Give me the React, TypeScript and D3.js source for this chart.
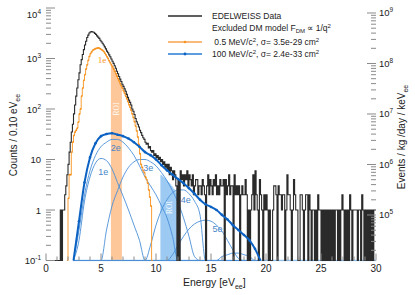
import * as d3 from "d3";

const width = 415;
const height = 295;
const plot = { left: 46, right: 376, top: 8, bottom: 260.5 };

const binWidth = 0.1;
// counts -> Events / kg / day / keV conversion used by the right axis
const rateFactor = 1.256e5;

// EDELWEISS data, counts per 0.1 eV bin from 0 eV
const dataStart = 0;
const dataCounts = [
  0, 0, 0, 0, 0, 0, 0, 0, 0, 0,
  0, 0, 0, 1, 0, 1, 1, 2, 3, 5,
  8, 14, 22, 35, 50, 80, 120, 180, 260, 380,
  520, 750, 950, 1200, 1500, 1850, 2200, 2600, 2900, 3200,
  3350, 3400, 3350, 3300, 3150, 3000, 2800, 2650, 2500, 2300,
  2150, 2000, 1850, 1700, 1550, 1400, 1300, 1180, 1080, 980,
  880, 800, 720, 640, 560, 500, 440, 390, 350, 310,
  280, 250, 225, 195, 170, 150, 135, 120, 100, 90,
  78, 65, 56, 50, 44, 38, 34, 30, 27, 25,
  22, 20, 21, 17, 18, 15, 14, 15, 12, 13,
  11, 12, 10, 11, 9, 10, 8, 9, 7, 8,
  6, 8, 5, 7, 6, 4, 6, 5, 3, 0,
  4, 0, 6, 4, 5, 3, 5, 4, 6, 3,
  5, 4, 3, 5, 2, 3, 4, 4, 2, 3,
  3, 2, 4, 3, 2, 0, 3, 5, 2, 4,
  3, 2, 4, 3, 5, 2, 3, 2, 4, 3,
  3, 4, 0, 4, 2, 3, 5, 2, 3, 3,
  0, 5, 2, 3, 2, 3, 0, 2, 3, 2,
  2, 4, 2, 0, 1, 0, 1, 2, 5, 1,
  6, 2, 1, 0, 4, 2, 1, 0, 2, 1,
  2, 1, 0, 1, 0, 0, 1, 3, 3, 2,
  0, 3, 2, 2, 1, 2, 2, 0, 1, 5,
  2, 2, 1, 0, 1, 4, 2, 1, 1, 0,
  0, 2, 2, 1, 0, 1, 2, 2, 0, 2,
  1, 0, 1, 1, 0, 1, 0, 2, 1, 1,
  0, 1, 0, 1, 0, 1, 0, 1, 0, 1,
  0, 1, 0, 1, 1, 0, 1, 0, 1, 2,
  1, 0, 1, 0, 1, 0, 2, 1, 0, 1,
  1, 1, 1, 0, 1, 1, 0, 2, 1, 0,
  1, 0, 1, 0, 1, 0, 1, 0, 1, 1,
];

// 0.5 MeV/c2 model (1e), per 0.1 eV bin from 1.9 eV
const orangeStart = 1.9;
const orangeCounts = [
  0,
  1.7, 5, 5, 14, 22, 30, 35, 38, 42, 55,
  80, 100, 180, 260, 370, 480, 620, 750, 920, 1100,
  1250, 1350, 1450, 1500, 1550, 1580, 1600, 1620, 1600, 1550,
  1500, 1450, 1380, 1280, 1180, 1080, 1000, 900, 820, 750,
  690, 620, 560, 500, 450, 400, 360, 320, 290, 260,
  230, 205, 180, 160, 140, 122, 108, 94, 80, 68,
  56, 46, 37, 28, 20, 13, 8, 7, 6, 5.5,
  4.5, 4, 3.4, 2.5, 1.8, 1.2, 0,
];
const roiOrange = [5.9, 6.9];

// 100 MeV/c2 ROI content, per 0.1 eV bin from 10.4 eV
const roiBlueStart = 10.4;
const roiBlueCounts = [5, 4.8, 4.6, 4.4, 4.2, 4, 3.8, 3.6, 3.4, 3.2, 3, 2.8, 2.6, 2.4, 2.2];

// 100 MeV/c2 model, sampled every 0.5 eV
const modelEnergy = [
  2.5, 3, 3.5, 4, 4.5, 5, 5.5, 6, 6.5, 7, 7.5, 8, 8.5, 9, 9.5, 10, 10.5, 11,
  11.5, 12, 12.5, 13, 13.5, 14, 14.5, 15, 15.5, 16, 16.5, 17, 17.5, 18, 18.5, 19, 19.5,
];
const model1e = [0, 0.25, 1.5, 4.5, 8.5, 10.5, 9.5, 6.5, 3.5, 1.9, 1, 0.5, 0.25, 0, 0, 0, 0, 0, 0, 0, 0, 0, 0, 0, 0, 0, 0, 0, 0, 0, 0, 0, 0, 0, 0];
const model2e = [0, 0.4, 2, 6, 12, 18, 22, 25, 25, 22, 17, 12, 7.5, 4.5, 3, 2, 1.2, 0.7, 0.3, 0, 0, 0, 0, 0, 0, 0, 0, 0, 0, 0, 0, 0, 0, 0, 0];
const model3e = [0, 0, 0, 0, 0, 0, 0.4, 1.2, 2.4, 4.5, 7, 9, 10, 10, 9, 7.5, 5.5, 3.8, 2.4, 1.4, 0.7, 0.3, 0.12, 0, 0, 0, 0, 0, 0, 0, 0, 0, 0, 0, 0];
const model4e = [0, 0, 0, 0, 0, 0, 0, 0, 0, 0, 0, 0, 0, 0, 0.2, 0.5, 1, 1.6, 2.2, 2.5, 2.5, 2.1, 1.5, 0.8, 0, 0, 0, 0, 0, 0, 0, 0, 0, 0, 0];
const model5e = [0, 0, 0, 0, 0, 0, 0, 0, 0, 0, 0, 0, 0, 0, 0, 0, 0, 0, 0.13, 0.2, 0.3, 0.42, 0.53, 0.6, 0.63, 0.6, 0.5, 0.38, 0.25, 0.16, 0.11, 0, 0, 0, 0];
const model6e = [0, 0, 0, 0, 0, 0, 0, 0, 0, 0, 0, 0, 0, 0, 0, 0, 0, 0, 0, 0, 0, 0, 0, 0, 0, 0, 0.1, 0.12, 0.13, 0.14, 0.14, 0.13, 0.12, 0.1, 0];
const modelTotal = [0.1, 0.6, 3.5, 11, 21, 29, 32, 33, 31, 29, 26, 22, 17.8, 14, 12.2, 10, 7.7, 6.1, 5, 4.1, 3.4, 2.7, 2.1, 1.6, 1.3, 1.15, 1, 0.8, 0.65, 0.5, 0.4, 0.32, 0.25, 0.17, 0.1];
const modelFloor = [2.5, 30];

const componentLabels = [
  { text: "1e", e: 5.2, v: 5.6 },
  { text: "2e", e: 6.35, v: 17 },
  { text: "3e", e: 9.3, v: 6.8 },
  { text: "4e", e: 12.7, v: 1.58 },
  { text: "5e", e: 15.6, v: 0.42 },
];

const xTicks = [0, 5, 10, 15, 20, 25, 30];

const font = "'Liberation Sans', Arial, sans-serif";
const dataColor = "#2a2a2a";
const orange = "#f7931e";
const orangeFill = "#fdc79a";
const thinBlue = "#4a8fd8";
const thickBlue = "#0b62c3";
const blueFill = "#9ccaf3";
const labelBlue = "#4a86c8";
const tickGray = "#8a8a8a";

type Pt = [number, number];

const xScale = d3.scaleLinear().domain([0, 30]).range([plot.left, plot.right]);
const yScale = d3.scaleLog().domain([0.1, 1e4]).range([plot.bottom, plot.top]);
const rScale = d3
  .scaleLog()
  .domain([0.1 * rateFactor, 1e4 * rateFactor])
  .range([plot.bottom, plot.top]);

const yc = (v: number) => yScale(Math.max(v, 0.1));

function steps(start: number, counts: number[]): Pt[] {
  const pts: Pt[] = counts.map((c, i) => [start + i * binWidth, c]);
  pts.push([start + counts.length * binWidth, counts[counts.length - 1]]);
  return pts;
}

const stepLine = d3
  .line<Pt>()
  .x((d) => xScale(d[0]))
  .y((d) => yc(d[1]))
  .curve(d3.curveStepAfter);

const stepArea = d3
  .area<Pt>()
  .x((d) => xScale(d[0]))
  .y0(plot.bottom)
  .y1((d) => yc(d[1]))
  .curve(d3.curveStepAfter);

const smoothLine = d3
  .line<Pt>()
  .x((d) => xScale(d[0]))
  .y((d) => yc(d[1]))
  .curve(d3.curveMonotoneX);

function powLabel(v: number) {
  const p = Math.round(Math.log10(v));
  if (p === 0) return { base: "1", exp: "" };
  if (p === 1) return { base: "10", exp: "" };
  return { base: "10", exp: String(p) };
}

function logTicks(lo: number, hi: number) {
  const major: number[] = [];
  const minor: number[] = [];
  for (let p = Math.floor(Math.log10(lo)); p <= Math.ceil(Math.log10(hi)); p++) {
    for (let k = 1; k < 10; k++) {
      const v = k * Math.pow(10, p);
      if (v < lo * 0.999 || v > hi * 1.001) continue;
      if (k === 1) major.push(v);
      else minor.push(v);
    }
  }
  return { major, minor };
}

function Pow({ x, y, v, anchor }: { x: number; y: number; v: number; anchor: "start" | "end" }) {
  const { base, exp } = powLabel(v);
  return (
    <text x={x} y={y} textAnchor={anchor} fontSize={9.5} fontFamily={font} fill="#222">
      {base}
      {exp && (
        <tspan dy={-4} fontSize={6.5}>
          {exp}
        </tspan>
      )}
    </text>
  );
}

export default function App() {
  const dataPts = steps(dataStart, dataCounts);
  const orangePts = steps(orangeStart, orangeCounts);
  const orangeRoi = orangePts.filter((d) => d[0] >= roiOrange[0] - 1e-6 && d[0] <= roiOrange[1] + 1e-6);
  const bluePts = steps(roiBlueStart, roiBlueCounts);

  const comps = [model1e, model2e, model3e, model4e, model5e, model6e].map((arr) =>
    arr.map((v, i) => [modelEnergy[i], v] as Pt)
  );
  const totalPts = modelTotal.map((v, i) => [modelEnergy[i], v] as Pt);

  const left = logTicks(0.1, 1e4);
  const right = logTicks(0.1 * rateFactor, 1e4 * rateFactor);

  const lx1 = 168;
  const lx2 = 202;
  const tx = 212;

  return (
    <svg
      width={width}
      height={height}
      style={{ position: "absolute", left: 0, top: 0, background: "#fff" }}
    >
      <defs>
        <clipPath id="plotClip">
          <rect x={plot.left} y={plot.top} width={plot.right - plot.left} height={plot.bottom - plot.top + 1} />
        </clipPath>
      </defs>

      <g clipPath="url(#plotClip)">
        <path d={stepArea(orangeRoi) ?? ""} fill={orangeFill} />
        <path d={stepArea(bluePts) ?? ""} fill={blueFill} />

        <line
          x1={xScale(modelFloor[0])}
          x2={xScale(modelFloor[1])}
          y1={plot.bottom}
          y2={plot.bottom}
          stroke="#8fc0ee"
          strokeWidth={1.5}
        />
        {comps.map((pts, i) => (
          <path key={i} d={smoothLine(pts) ?? ""} fill="none" stroke={thinBlue} strokeWidth={0.9} />
        ))}

        <path d={stepLine(orangePts) ?? ""} fill="none" stroke={orange} strokeWidth={0.9} />
        {orangeCounts.map((c, i) =>
          c > 0.1 ? (
            <circle
              key={i}
              cx={xScale(orangeStart + (i + 0.5) * binWidth)}
              cy={yc(c)}
              r={0.9}
              fill={orange}
            />
          ) : null
        )}

        <path d={stepLine(dataPts) ?? ""} fill="none" stroke={dataColor} strokeWidth={1.1} />

        <path d={smoothLine(totalPts) ?? ""} fill="none" stroke={thickBlue} strokeWidth={2} />
        {totalPts.map((d, i) =>
          d[1] > 0.1 ? <circle key={i} cx={xScale(d[0])} cy={yc(d[1])} r={1.3} fill={thickBlue} /> : null
        )}
      </g>

      {/* annotations */}
      <text
        x={xScale(5.1)}
        y={yScale(940)}
        dy="0.35em"
        textAnchor="middle"
        fontSize={9}
        fontFamily="'Liberation Serif', serif"
        fill={orange}
      >
        1e
      </text>
      {componentLabels.map((l) => (
        <text
          key={l.text}
          x={xScale(l.e)}
          y={yScale(l.v)}
          dy="0.35em"
          textAnchor="middle"
          fontSize={9}
          fontFamily={font}
          fill={labelBlue}
        >
          {l.text}
        </text>
      ))}
      <text
        transform={`translate(${xScale(6.4)},${yScale(100)}) rotate(-90)`}
        dy="0.35em"
        textAnchor="middle"
        fontSize={7.5}
        fontFamily="'Liberation Serif', serif"
        fill="#fff"
      >
        ROI
      </text>
      <text
        transform={`translate(${xScale(11.2)},${yScale(1.12)}) rotate(-90)`}
        dy="0.35em"
        textAnchor="middle"
        fontSize={7.5}
        fontFamily="'Liberation Serif', serif"
        fill="#fff"
      >
        ROI
      </text>

      {/* left axis */}
      {left.major.map((v) => (
        <g key={"lM" + v}>
          <line x1={plot.left} x2={plot.left + 9} y1={yScale(v)} y2={yScale(v)} stroke={tickGray} />
          <Pow x={41} y={Math.max(yScale(v), 14) + 3.5} v={v} anchor="end" />
        </g>
      ))}
      {left.minor.map((v) => (
        <line key={"lm" + v} x1={plot.left} x2={plot.left + 5} y1={yScale(v)} y2={yScale(v)} stroke={tickGray} />
      ))}

      {/* right axis */}
      {right.major.map((v) => (
        <g key={"rM" + v}>
          <line x1={plot.right - 9} x2={plot.right} y1={rScale(v)} y2={rScale(v)} stroke={tickGray} />
          <Pow x={379} y={rScale(v) + 3.5} v={v} anchor="start" />
        </g>
      ))}
      {right.minor.map((v) => (
        <line key={"rm" + v} x1={plot.right - 5} x2={plot.right} y1={rScale(v)} y2={rScale(v)} stroke={tickGray} />
      ))}

      {/* bottom axis */}
      {d3.range(0, 31, 1).map((e) => (
        <line
          key={"b" + e}
          x1={xScale(e)}
          x2={xScale(e)}
          y1={plot.bottom}
          y2={plot.bottom - (e % 5 === 0 ? 7 : 4)}
          stroke={tickGray}
        />
      ))}
      {xTicks.map((e) => (
        <text key={"xt" + e} x={xScale(e)} y={272} textAnchor="middle" fontSize={10} fontFamily={font} fill="#222">
          {e}
        </text>
      ))}

      {/* titles */}
      <text x={xScale(15.3)} y={286} textAnchor="middle" fontSize={10.5} fontFamily={font} fill="#222">
        Energy [eV
        <tspan dy={3} fontSize={7}>
          ee
        </tspan>
        <tspan dy={-3}>]</tspan>
      </text>
      <text
        transform="translate(17,135) rotate(-90)"
        textAnchor="middle"
        fontSize={10}
        fontFamily={font}
        fill="#222"
      >
        Counts / 0.10 eV
        <tspan dy={3} fontSize={7}>
          ee
        </tspan>
      </text>
      <text
        transform="translate(405,137) rotate(-90)"
        textAnchor="middle"
        fontSize={10}
        fontFamily={font}
        fill="#222"
      >
        Events / kg /day / keV
        <tspan dy={3} fontSize={7}>
          ee
        </tspan>
      </text>

      {/* legend */}
      <g fontFamily={font} fontSize={8.5} fill="#222">
        <line x1={lx1} x2={lx2} y1={16} y2={16} stroke={dataColor} strokeWidth={1.5} />
        <text x={tx} y={19}>EDELWEISS Data</text>
        <text x={tx} y={31}>
          Excluded DM model F
          <tspan dy={2} fontSize={6}>
            DM
          </tspan>
          <tspan dy={-2}> ∝ 1/q</tspan>
          <tspan dy={-3} fontSize={6}>
            2
          </tspan>
        </text>
        <line x1={lx1} x2={lx2} y1={42} y2={42} stroke="#f9a350" strokeWidth={1.5} />
        <circle cx={(lx1 + lx2) / 2} cy={42} r={1.3} fill={orange} />
        <text x={tx} y={45}>
          {"\u00a00.5 MeV/c"}
          <tspan dy={-3} fontSize={6}>
            2
          </tspan>
          <tspan dy={3}>, σ= 3.5e-29 cm</tspan>
          <tspan dy={-3} fontSize={6}>
            2
          </tspan>
        </text>
        <line x1={lx1} x2={lx2} y1={54} y2={54} stroke="#5c9de0" strokeWidth={1.8} />
        <circle cx={(lx1 + lx2) / 2} cy={54} r={1.4} fill={thickBlue} />
        <text x={tx} y={57}>
          100 MeV/c
          <tspan dy={-3} fontSize={6}>
            2
          </tspan>
          <tspan dy={3}>, σ= 2.4e-33 cm</tspan>
          <tspan dy={-3} fontSize={6}>
            2
          </tspan>
        </text>
      </g>
    </svg>
  );
}
